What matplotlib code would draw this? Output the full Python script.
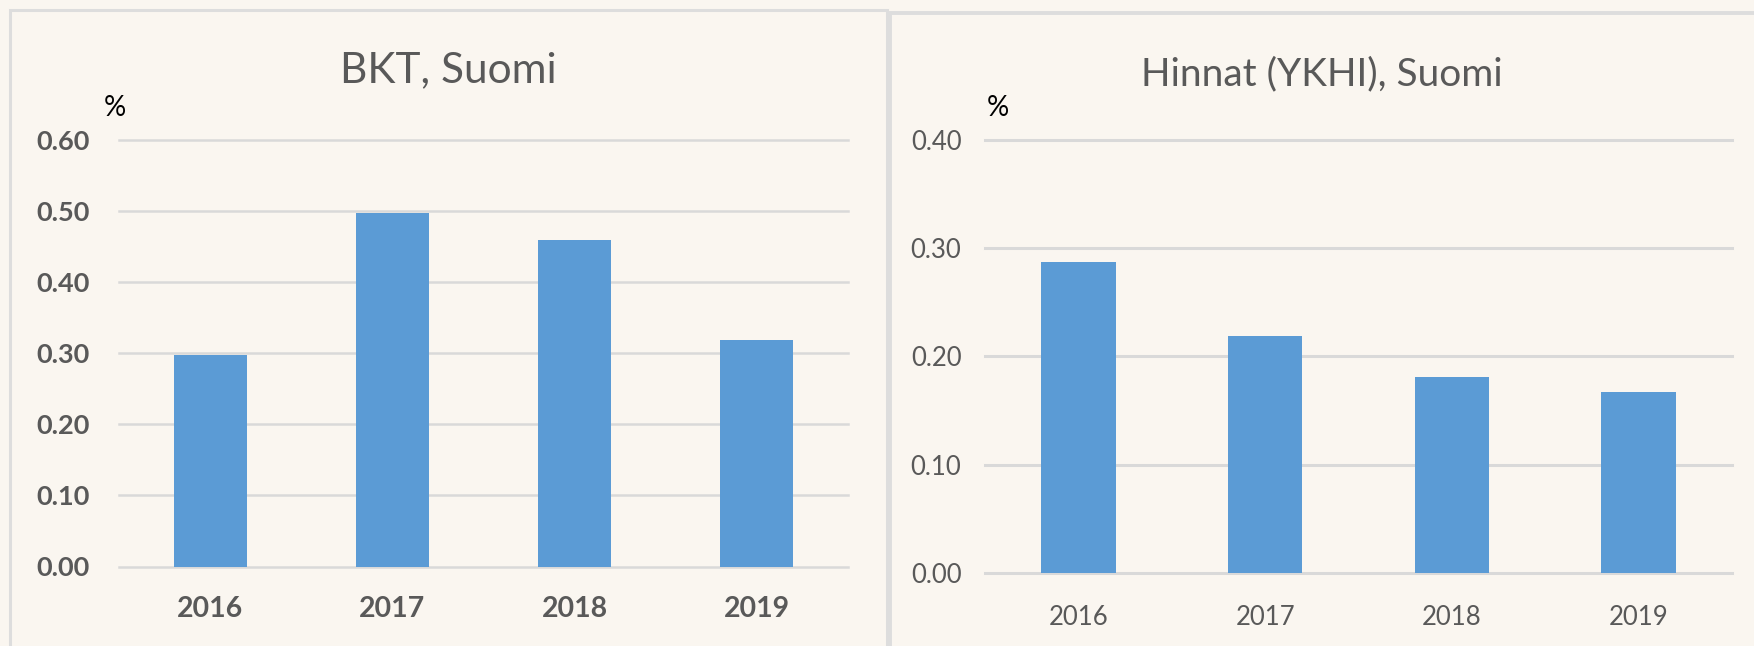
import matplotlib
matplotlib.use("Agg")
import matplotlib.pyplot as plt
from matplotlib.patches import Rectangle

plt.rcParams['font.family'] = ['Lato', 'DejaVu Sans']

years = ["2016", "2017", "2018", "2019"]
bkt_values = [0.297, 0.498, 0.46, 0.319]
ykhi_values = [0.287, 0.219, 0.181, 0.167]

bkt_ticks = [0.0, 0.1, 0.2, 0.3, 0.4, 0.5, 0.6]
ykhi_ticks = [0.0, 0.1, 0.2, 0.3, 0.4]

BG = '#faf6f0'
BORDER = '#dddddd'
GRID = '#d9d9d9'
BAR = '#5b9bd5'
TEXT = '#595959'

W, H = 1754, 646
fig = plt.figure(figsize=(W / 100, H / 100), dpi=100)
fig.patch.set_facecolor(BG)


def px(x0, y_top, x1, y_bot):
    # pixel box -> figure fraction [left, bottom, width, height]
    return [x0 / W, (H - y_bot) / H, (x1 - x0) / W, (y_bot - y_top) / H]


# panel frames, kept behind the axes
fig.patches.append(Rectangle((10 / W, -0.05), 877 / W, 1.05 - 10 / H,
                             transform=fig.transFigure, facecolor=BG,
                             edgecolor=BORDER, lw=2.2, zorder=-5))
fig.patches.append(Rectangle((890 / W, -0.05), 0.5, 1.05 - 13 / H,
                             transform=fig.transFigure, facecolor=BG,
                             edgecolor=BORDER, lw=2.8, zorder=-5))


def bar_panel(rect, values, ticks, bold, size_y, size_x, pad_y, pad_x, grid_lw):
    ax = fig.add_axes(rect)
    ax.set_zorder(1)
    ax.set_facecolor('none')
    ax.bar(range(len(values)), values, width=0.4, color=BAR, zorder=3)
    ax.set_xlim(-0.5, len(values) - 0.5)
    ax.set_ylim(ticks[0], ticks[-1])
    ax.set_yticks(ticks)
    ax.set_yticklabels([f"{t:.2f}" for t in ticks])
    ax.set_xticks(range(len(values)))
    ax.set_xticklabels(years)
    weight = 'bold' if bold else 'normal'
    ax.tick_params(axis='y', length=0, pad=pad_y, labelsize=size_y, labelcolor=TEXT)
    ax.tick_params(axis='x', length=0, pad=pad_x, labelsize=size_x, labelcolor=TEXT)
    for lab in ax.get_xticklabels() + ax.get_yticklabels():
        lab.set_fontweight(weight)
    for s in ax.spines.values():
        s.set_visible(False)
    for y in ticks:
        ax.axhline(y, color=GRID, lw=grid_lw, zorder=1, clip_on=False)
    return ax


bar_panel(px(119, 140, 848, 566.5), bkt_values, bkt_ticks, True, 19.5, 20.5, 21, 21, 1.8)
bar_panel(px(985, 140, 1732, 572.7), ykhi_values, ykhi_ticks, False, 18.5, 18.5, 17, 23, 2.2)

fig.text(448 / W, 1 - 82 / H, "BKT, Suomi", ha='center', va='baseline',
         fontsize=30.5, color=TEXT)
fig.text(1322 / W, 1 - 85 / H, "Hinnat (YKHI), Suomi", ha='center', va='baseline',
         fontsize=28, color=TEXT)
fig.text(115 / W, 1 - 116 / H, "%", ha='center', va='baseline', fontsize=20, color='black')
fig.text(998 / W, 1 - 116 / H, "%", ha='center', va='baseline', fontsize=20, color='black')

fig.savefig("out.png", dpi=100, facecolor=BG)
